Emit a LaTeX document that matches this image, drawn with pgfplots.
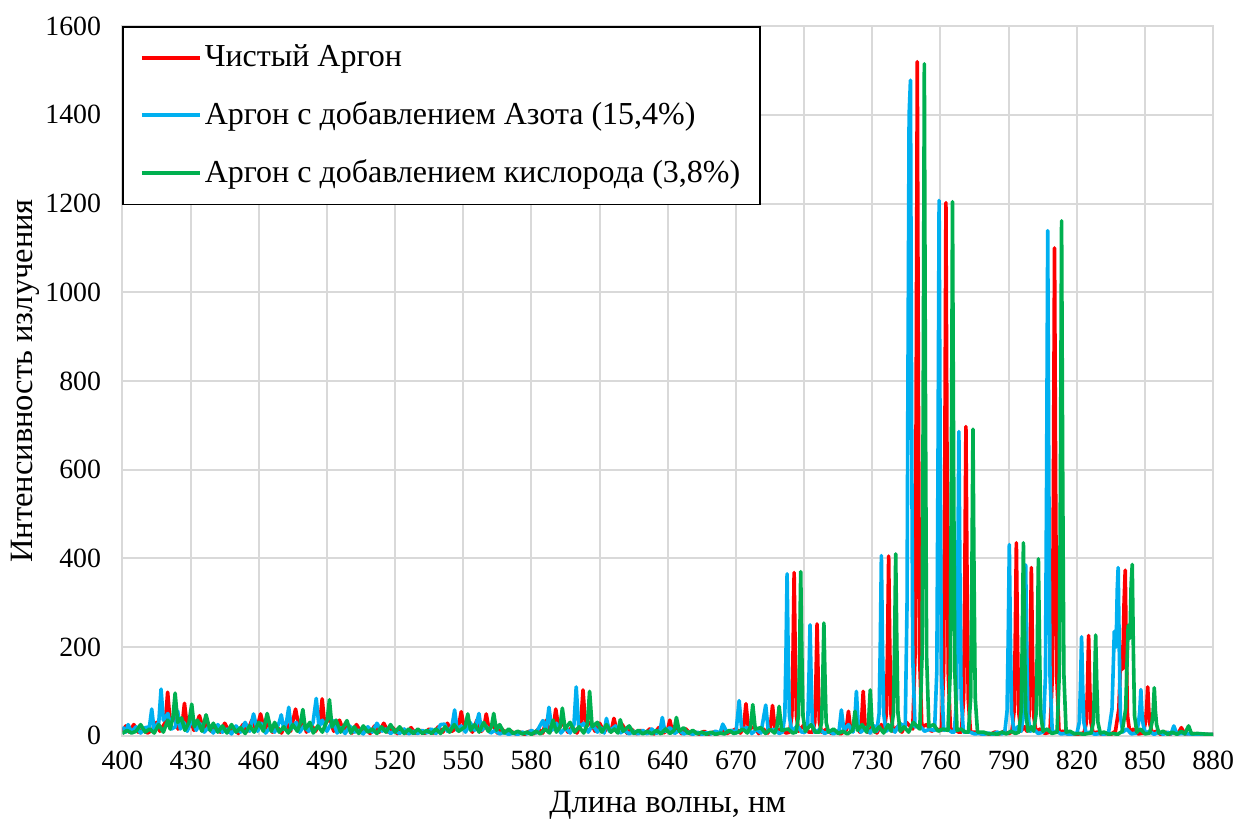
\documentclass[border=0pt]{standalone}
\usepackage{fontspec}
\setmainfont{Liberation Serif}
\usepackage{pgfplots}
\pgfplotsset{compat=1.18}
\definecolor{cRed}{HTML}{FF0000}
\definecolor{cBlue}{HTML}{00B0F0}
\definecolor{cGreen}{HTML}{00B050}
\definecolor{cGrid}{HTML}{D9D9D9}
\begin{document}
\begin{tikzpicture}
\path[use as bounding box] (-44pt,-30.6pt) rectangle (399.5pt,264.4pt);
\begin{axis}[
  scale only axis, width=392pt, height=255pt,
  xmin=400, xmax=880, ymin=0, ymax=1600,
  xtick={400,430,...,880}, ytick={0,200,...,1600},
  grid=major, major grid style={draw=cGrid, line width=0.7pt},
  axis line style={draw=cGrid, line width=0.7pt},
  tick style={draw=none},
  /pgf/number format/assume math mode=true,
  /pgf/number format/1000 sep={},
  ticklabel style={font=\fontsize{10}{12}\selectfont},
  xticklabel style={anchor=center, yshift=-9pt},
  yticklabel style={anchor=east, inner sep=0pt, xshift=-7.5pt},
  xlabel={Длина волны, нм}, ylabel={Интенсивность излучения},
  label style={font=\fontsize{11.7}{14}\selectfont},
  xlabel style={at={(axis description cs:0.5,-0.0988)}, anchor=center},
  ylabel style={at={(axis description cs:-0.0893,0.5)}, anchor=center},
  legend style={at={(0,1)}, anchor=north west, draw=black, line width=0.6pt,
    font=\fontsize{11.5}{13.5}\selectfont, row sep=7pt, inner xsep=6pt, inner ysep=4.5pt, fill=white,
    nodes={inner xsep=1pt}},
  legend cell align=left,
  legend image code/.code={\draw[#1, line width=1.3pt] (0pt,0pt) -- (21pt,0pt);},
  every axis plot/.append style={line width=1.3pt, line join=round},
]
\addplot[cRed] coordinates {
(400,10)(401.5,22)(403,8)(405,25)(407,8)(409,15)(411,6)(413,12)(415,30)(416.5,10)(418.9,30)(419.9,98)(421,30)(423,45)(424.5,15)(426.3,25)(427.3,73)(428.5,20)(430,35)(431.5,12)(433.9,45)(435.5,15)(437,30)(439,10)(441,22)(443,8)(445,28)(447,10)(449,18)(451,5)(453,25)(455,10)(457,35)(459,12)(460.8,49)(462.5,12)(464,30)(466,8)(468,20)(470,6)(472,30)(474,10)(476.2,60)(477.8,15)(479.5,35)(481,8)(483,25)(485,10)(486.9,30)(487.9,83)(489,25)(491,40)(493,10)(495.5,35)(497.5,8)(499,20)(501,6)(503,25)(505,8)(507,15)(509,5)(511,22)(513,8)(515,28)(517,8)(519,18)(521,5)(523,15)(525,6)(527,18)(529,5)(531,12)(533,5)(535,15)(537,6)(539,20)(541,8)(543,28)(545,10)(547.9,20)(549.1,54)(550.5,15)(552,25)(554,8)(556,35)(558,10)(559.1,18)(560.1,49)(561.3,15)(563,25)(565,6)(567,15)(569,5)(571,10)(573,4)(575,8)(577,3)(579,10)(581,4)(583,15)(585,6)(586.5,35)(588,8)(589.7,20)(590.7,60)(592,15)(594,30)(596,8)(598,20)(600,6)(601.7,25)(602.7,103)(603.8,20)(606,30)(608,10)(610,28)(612,8)(613.5,20)(615,8)(616.3,39)(617.6,10)(620,25)(622,6)(624,15)(626,4)(628,12)(630,5)(632,15)(634,4)(636,18)(638,6)(639.9,12)(640.9,35)(642,10)(644,20)(646,5)(648,15)(650,4)(652,8)(654,3)(656,10)(658,3)(660,8)(662,4)(664,12)(666,5)(668,10)(670,15)(672,6)(673.4,20)(674.4,72)(675.5,15)(678,20)(680,5)(682,15)(684,6)(685.1,18)(686.1,68)(687.2,12)(690,15)(692,6)(693.6,8)(694.6,45)(695.1,180)(695.6,368)(696.1,180)(696.6,45)(697.6,10)(700,25)(702,8)(703.7,8)(704.7,30)(705.2,125)(705.7,252)(706.2,125)(706.7,30)(707.7,8)(710,15)(712,5)(714,10)(716,4)(718.5,12)(719.5,55)(720.5,12)(722.5,25)(724.5,8)(725.2,25)(726,100)(726.8,25)(728,8)(730,20)(732,6)(734,25)(735.2,10)(736.2,50)(736.7,200)(737.2,405)(737.7,200)(738.2,50)(739.2,10)(741,20)(743,8)(745,30)(747.8,15)(748.8,180)(749.3,750)(749.8,1520)(750.3,750)(750.8,180)(751.8,20)(754,25)(756,10)(758,15)(760.4,12)(761.4,145)(761.9,600)(762.4,1202)(762.9,600)(763.4,145)(764.4,12)(766,15)(768,8)(769.2,8)(770.2,85)(770.7,350)(771.2,697)(771.7,350)(772.2,85)(773.2,8)(776,8)(778,4)(780,5)(782,3)(784,8)(786,4)(788,10)(790,5)(791.4,8)(792.4,55)(792.9,215)(793.4,435)(793.9,215)(794.4,55)(795.4,10)(797,20)(798,10)(799,45)(799.5,190)(800,379)(800.5,190)(801,45)(802,10)(804,15)(806,5)(808.2,8)(809.2,130)(809.7,550)(810.2,1100)(810.7,550)(811.2,130)(812.2,8)(814,10)(816,4)(818,5)(820,3)(822,5)(823.2,6)(824.2,30)(824.7,110)(825.2,226)(825.7,110)(826.2,30)(827.2,6)(829,8)(831,3)(833,5)(835,3)(837,10)(838.5,60)(839.5,200)(840.2,150)(840.8,300)(841.3,373)(841.8,185)(842.3,45)(843.3,8)(845,15)(847,4)(849.2,6)(850.2,30)(850.7,60)(851.2,110)(851.7,55)(852.2,25)(853.2,6)(855,10)(857,3)(859,8)(861,3)(863,10)(864.5,4)(866,18)(867.5,4)(870,5)(875,3)(880,3)
};
\addlegendentry{Чистый Аргон}
\addplot[cBlue] coordinates {
(400,20)(401.5,8)(402.5,25)(404,8)(406,20)(408,6)(410,18)(411.9,20)(412.9,60)(413.9,15)(416,30)(417,105)(418,35)(420,50)(421.5,15)(423.3,20)(424.3,56)(425.5,15)(427,30)(428.5,10)(430.9,40)(432.5,12)(434,28)(436,8)(438,20)(440,6)(442,25)(444,8)(446,15)(448,4)(450,22)(452,8)(454,30)(456,10)(457.7,49)(459.5,10)(461,28)(463,6)(465,18)(467,8)(469,30)(469.9,47)(471,15)(472.2,30)(473.2,64)(474.3,15)(476.5,30)(478,8)(480,22)(482,10)(483.9,30)(485.3,84)(486.5,20)(488,35)(490,10)(492.6,34)(494.5,6)(496,18)(498,5)(500,22)(502,8)(504,12)(506,4)(508,20)(510,8)(512,28)(514,10)(516,15)(518,5)(520,12)(522,5)(524,15)(526,4)(528,10)(530,5)(532,12)(534,6)(536,15)(538,5)(540,25)(541.8,26)(543,10)(545,20)(546.2,58)(547.3,12)(549,22)(551,8)(553,30)(555,12)(556.9,50)(558,12)(560,22)(562,6)(564,12)(566,4)(568,8)(570,3)(572,6)(574,3)(576,8)(578,4)(580,12)(582,6)(585,34)(586.5,12)(587.7,64)(589,12)(591,28)(593,6)(595,18)(597,6)(598.7,25)(599.7,110)(600.8,18)(603,28)(605,8)(607,25)(609,8)(610.5,18)(612,6)(613,39)(614.3,10)(617,22)(619,6)(621,12)(623,4)(625,10)(627,4)(629,12)(631,4)(633,15)(635,5)(636.6,12)(637.6,41)(638.7,10)(641,18)(643,5)(645,12)(647,4)(649,8)(651,3)(653,8)(655,3)(657,7)(659,4)(661,10)(663,6)(664.2,26)(666,8)(668,12)(670,6)(671.4,79)(672.5,15)(675,18)(677,5)(679,14)(681,6)(683.1,69)(684.2,12)(687,14)(689,5)(690.5,8)(691.5,45)(692,180)(692.5,365)(693,180)(693.5,45)(694.5,10)(697,22)(699,8)(700.6,8)(701.6,30)(702.1,125)(702.6,250)(703.1,125)(703.6,30)(704.6,8)(707,14)(709,5)(711,10)(713,4)(715.4,12)(716.4,58)(717.5,12)(719.5,25)(721.5,8)(722.2,25)(723,100)(723.8,25)(725,8)(727,18)(729,6)(731,22)(732,10)(733,50)(733.5,200)(734,406)(734.5,200)(735,50)(736,10)(738,18)(740,8)(742,28)(744.5,20)(745.3,300)(745.6,700)(746.2,1400)(746.8,1478)(747.3,730)(747.8,175)(748.8,20)(751,22)(753,10)(755,14)(757.4,12)(758.4,145)(758.9,600)(759.4,1207)(759.9,600)(760.4,145)(761.4,12)(763,15)(765,8)(766.1,8)(767.1,85)(767.6,345)(768.1,686)(768.6,345)(769.1,85)(770.1,8)(773,8)(775,4)(777,5)(779,3)(781,6)(783,3)(785,8)(787,4)(788.3,8)(789.3,55)(789.8,215)(790.3,431)(790.8,215)(791.3,55)(792.3,10)(794,20)(795.5,10)(796.5,45)(797,190)(797.5,385)(798,190)(798.5,45)(799.5,10)(801,15)(803,5)(805.2,8)(806.2,135)(806.7,570)(807.2,1139)(807.7,570)(808.2,135)(809.2,8)(811,10)(813,4)(815,5)(817,3)(819,5)(820.1,6)(821.1,30)(821.6,110)(822.1,223)(822.6,110)(823.1,30)(824.1,6)(826,8)(828,3)(830,5)(832,3)(834,8)(835.5,60)(836.5,235)(837.3,200)(837.8,330)(838.2,379)(838.7,190)(839.2,45)(840.2,8)(842,15)(844,4)(846.2,6)(847.2,30)(847.7,55)(848.2,104)(848.7,50)(849.2,25)(850.2,6)(852,10)(854,3)(856,8)(858,3)(860,8)(861.5,4)(862.7,22)(864,4)(867,5)(872,3)(880,3)
};
\addlegendentry{Аргон с добавлением Азота (15,4\%)}
\addplot[cGreen] coordinates {
(400,5)(402,12)(404,6)(406,10)(408,25)(410,8)(412,15)(414,6)(416,25)(418,8)(420,35)(421,15)(422.2,40)(423.2,96)(424.3,30)(426,40)(427.5,12)(429.3,30)(430.5,71)(431.6,20)(433,35)(435,10)(436.8,47)(438.5,12)(440,28)(442,8)(444,22)(446,6)(448,25)(450,8)(452,18)(454,5)(456,22)(458,8)(460,30)(462,10)(463.7,50)(465.5,10)(467,30)(469,8)(471,20)(473,6)(475,25)(477,10)(478.4,30)(479.4,59)(480.5,15)(482.5,30)(484,6)(486,22)(488,8)(490.1,35)(491.1,81)(492.2,20)(494,35)(496,8)(498.8,34)(500.5,6)(502,20)(504,5)(506,22)(508,8)(510,15)(512,5)(514,20)(516,8)(518,25)(520,8)(522,20)(524,5)(526,15)(528,5)(530,15)(532,5)(534,12)(536,5)(538,15)(540,5)(542,20)(544,8)(546,25)(548,10)(550.8,20)(552,49)(553.2,12)(555,25)(557,8)(559,30)(561,10)(562.4,20)(563.4,50)(564.6,12)(566,25)(568,6)(570,15)(572,5)(574,10)(576,4)(578,8)(580,3)(582,10)(584,4)(586,15)(588,6)(589.5,35)(591,8)(592.6,20)(593.6,62)(594.8,15)(597,30)(599,8)(601,20)(603,6)(604.6,25)(605.6,100)(606.7,20)(609,30)(611,8)(613,25)(615,8)(616.5,15)(618,6)(619.1,36)(620.3,10)(623,22)(625,5)(627,12)(629,4)(631,10)(633,4)(635,12)(637,4)(639,15)(641,5)(642.8,12)(643.8,41)(645,10)(647,18)(649,5)(651,12)(653,4)(655,8)(657,3)(659,8)(661,3)(663,6)(665,4)(667,12)(669,5)(671,8)(673,15)(675,6)(676.4,20)(677.4,70)(678.5,15)(681,18)(683,5)(685,14)(687,6)(688,18)(689,66)(690.1,12)(693,15)(695,6)(696.5,8)(697.5,45)(698,185)(698.5,370)(699,185)(699.5,45)(700.5,10)(703,25)(705,8)(706.7,8)(707.7,30)(708.2,127)(708.7,254)(709.2,127)(709.7,30)(710.7,8)(713,15)(715,5)(717,10)(719,4)(721.4,12)(722.4,55)(723.5,12)(725.5,25)(727.5,8)(728.3,25)(729.1,103)(729.9,25)(731,8)(733,20)(735,6)(737,25)(738.3,10)(739.3,50)(739.8,205)(740.3,410)(740.8,205)(741.3,50)(742.3,10)(744,20)(746,8)(748,30)(750.9,15)(751.9,180)(752.4,750)(752.9,1515)(753.4,750)(753.9,180)(754.9,20)(757,25)(759,10)(761,15)(763.3,12)(764.3,145)(764.8,600)(765.3,1204)(765.8,600)(766.3,145)(767.3,12)(769,15)(771,8)(772.3,8)(773.3,85)(773.8,345)(774.3,691)(774.8,345)(775.3,85)(776.3,8)(779,8)(781,4)(783,5)(785,3)(787,8)(789,4)(791,10)(793,5)(794.5,8)(795.5,55)(796,215)(796.5,435)(797,215)(797.5,55)(798.5,10)(800,20)(801,10)(802.1,50)(802.6,200)(803.1,399)(803.6,200)(804.1,50)(805.1,10)(807,15)(809,5)(811.3,8)(812.3,140)(812.8,580)(813.3,1161)(813.8,580)(814.3,140)(815.3,8)(817,10)(819,4)(821,5)(823,3)(825,5)(826.3,6)(827.3,30)(827.8,113)(828.3,227)(828.8,113)(829.3,30)(830.3,6)(832,8)(834,3)(836,5)(838,3)(840,10)(841.5,60)(842.6,248)(843.4,220)(843.9,340)(844.4,386)(844.9,190)(845.4,45)(846.4,8)(848,15)(850,4)(852.1,6)(853.1,30)(853.6,55)(854.1,108)(854.6,55)(855.1,25)(856.1,6)(858,10)(860,3)(862,8)(864,3)(866,10)(867.5,4)(869.2,22)(870.5,4)(873,5)(878,3)(880,3)
};
\addlegendentry{Аргон с добавлением кислорода (3,8\%)}
\end{axis}
\end{tikzpicture}
\end{document}
